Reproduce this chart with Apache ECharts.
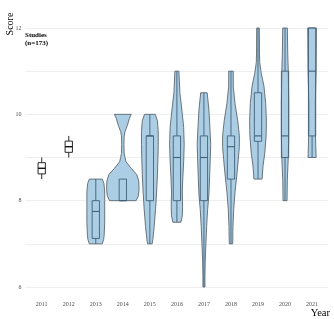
<!DOCTYPE html>
<html>
<head>
<meta charset="utf-8">
<script src="https://cdn.jsdelivr.net/npm/echarts@6/dist/echarts.min.js"></script>
<style>html,body{margin:0;padding:0;background:#fff;}#c{width:334px;height:319px;}</style>
</head>
<body>
<div id="c"></div>
<script>
// ---- data ----
const years = [2011, 2012, 2013, 2014, 2015, 2016, 2017, 2018, 2019, 2020, 2021];
const whiskerLow  = [8.5, 9.0, 7.0,   8.0, 7.0, 7.5, 6.0, 7.0, 8.5,   8.0, 9.0];
const q1          = [8.62, 9.12, 7.125, 8.0, 8.0, 8.0, 8.0, 8.5, 9.375, 9.0, 9.5];
const median      = [8.75, 9.25, 7.75, 8.0, 9.5, 9.0, 9.0, 9.25, 9.5,  9.5, 11.0];
const q3          = [8.88, 9.38, 8.0,   8.5, 9.5, 9.5, 9.5, 9.5, 10.5,  11.0, 12.0];
const whiskerHigh = [9.0, 9.5, 8.5,   8.5, 10.0, 11.0, 10.5, 11.0, 12.0, 12.0, 12.0];
const yTicks = [6, 8, 10, 12];
// violin profiles: [score, half-width in year units]
const violin2013 = [[8.5,0.24],[8.4,0.30],[8.2,0.33],[8.0,0.33],[7.5,0.33],[7.2,0.31],[7.1,0.29],[7.0,0.24]];
const violin2014 = [[10.0,0.31],[9.9,0.24],[9.75,0.17],[9.6,0.08],[9.5,0.05],[9.3,0.04],[9.1,0.05],[9.0,0.08],[8.9,0.12],[8.75,0.31],[8.6,0.52],[8.45,0.59],[8.25,0.60],[8.1,0.57],[8.0,0.49]];
const violin2015 = [[10.0,0.20],[9.85,0.28],[9.6,0.31],[9.3,0.31],[9.0,0.30],[8.6,0.28],[8.2,0.25],[7.8,0.21],[7.4,0.16],[7.1,0.11],[7.0,0.085]];
const violin2016 = [[11.0,0.074],[10.5,0.11],[10.1,0.185],[9.7,0.25],[9.3,0.27],[8.9,0.25],[8.55,0.22],[8.2,0.20],[7.85,0.21],[7.65,0.20],[7.5,0.15]];
const violin2017 = [[10.5,0.12],[10.1,0.185],[9.7,0.22],[9.3,0.25],[8.9,0.23],[8.55,0.21],[8.15,0.185],[7.8,0.137],[7.4,0.10],[7.0,0.074],[6.6,0.048],[6.25,0.037],[6.0,0.037]];
const violin2018 = [[11.0,0.085],[10.65,0.085],[10.25,0.15],[9.85,0.25],[9.5,0.31],[9.25,0.31],[8.95,0.27],[8.55,0.21],[8.2,0.15],[7.8,0.10],[7.4,0.074],[7.0,0.063]];
const violin2019 = [[12.0,0.048],[11.4,0.055],[11.2,0.063],[10.95,0.12],[10.65,0.22],[10.25,0.285],[9.85,0.31],[9.5,0.30],[9.1,0.25],[8.8,0.185],[8.5,0.15]];
const violin2020 = [[12.0,0.085],[11.4,0.10],[11.0,0.12],[10.25,0.137],[9.5,0.137],[9.0,0.12],[8.5,0.085],[8.0,0.074]];
const violin2021 = [[12.0,0.16],[11.0,0.15],[10.3,0.12],[9.65,0.12],[9.25,0.137],[9.0,0.15]];
const violins = [null, null, violin2013, violin2014, violin2015, violin2016, violin2017, violin2018, violin2019, violin2020, violin2021];

// ---- chart ----
const serif = 'Liberation Serif';
const chart = echarts.init(document.getElementById('c'), null, {renderer: 'canvas'});
const BOX_HALF = 0.135;

function renderItem(params, api) {
  const i = params.dataIndex;
  const yr = api.value(0);
  const children = [];
  const prof = violins[i];
  const isViolin = !!prof;
  if (isViolin) {
    const left = [], right = [];
    prof.forEach(p => {
      left.push(api.coord([yr - p[1], p[0]]));
      right.push(api.coord([yr + p[1], p[0]]));
    });
    const pts = left.concat(right.reverse());
    children.push({
      type: 'polygon',
      shape: {points: pts},
      style: {fill: '#abcee5', stroke: '#5c676f', lineWidth: 0.9}
    });
  }
  const stroke = isViolin ? '#3f6077' : '#111';
  const lw = isViolin ? 0.9 : 0.9;
  const cTop = api.coord([yr, api.value(5)]);
  const cQ3 = api.coord([yr, api.value(4)]);
  const cMed = api.coord([yr, api.value(3)]);
  const cQ1 = api.coord([yr, api.value(2)]);
  const cLow = api.coord([yr, api.value(1)]);
  const xl = api.coord([yr - BOX_HALF, 0])[0];
  const xr = api.coord([yr + BOX_HALF, 0])[0];
  const cx = cMed[0];
  children.push({type: 'line', shape: {x1: cx, y1: cTop[1], x2: cx, y2: cQ3[1]}, style: {stroke: stroke, lineWidth: lw}});
  children.push({type: 'line', shape: {x1: cx, y1: cQ1[1], x2: cx, y2: cLow[1]}, style: {stroke: stroke, lineWidth: lw}});
  children.push({type: 'rect', shape: {x: xl, y: cQ3[1], width: xr - xl, height: cQ1[1] - cQ3[1]},
    style: {fill: isViolin ? 'rgba(0,0,0,0)' : '#fff', stroke: stroke, lineWidth: lw}});
  children.push({type: 'line', shape: {x1: xl, y1: cMed[1], x2: xr, y2: cMed[1]}, style: {stroke: stroke, lineWidth: isViolin ? 1.1 : 1.4}});
  return {type: 'group', children: children};
}

const option = {
  backgroundColor: '#fff',
  animation: false,
  grid: {left: 25.5, right: 5.7, top: 28, bottom: 32},
  xAxis: {
    type: 'value', min: 2010.4, max: 2021.6,
    axisLine: {show: false}, axisTick: {show: false}, splitLine: {show: false},
    axisLabel: {customValues: years, formatter: v => String(v), color: '#4d4d4d', fontFamily: serif, fontSize: 6, margin: 14}
  },
  yAxis: {
    type: 'value', min: 6, max: 12, interval: 1,
    axisLine: {show: false}, axisTick: {show: false},
    splitLine: {show: true, lineStyle: {color: '#ececec', width: 0.9}},
    axisLabel: {formatter: v => yTicks.indexOf(v) >= 0 ? String(v) : '', color: '#4d4d4d', fontFamily: serif, fontSize: 6, margin: 4}
  },
  series: [{
    type: 'custom',
    renderItem: renderItem,
    clip: false,
    encode: {x: 0, y: 3},
    data: years.map((y, i) => [y, whiskerLow[i], q1[i], median[i], q3[i], whiskerHigh[i]])
  }],
  graphic: [
    {type: 'text', x: 10, y: 24, rotation: Math.PI / 2,
     style: {text: 'Score', font: '10px "Liberation Serif"', fill: '#000', align: 'center', verticalAlign: 'middle'}},
    {type: 'text', x: 330, y: 313,
     style: {text: 'Year', font: '10.5px "Liberation Serif"', fill: '#000', align: 'right', verticalAlign: 'middle'}},
    {type: 'text', x: 25, y: 35,
     style: {text: 'Studies', font: 'bold 7px "Liberation Serif"', fill: '#000', align: 'left', verticalAlign: 'middle'}},
    {type: 'text', x: 25, y: 43,
     style: {text: '(n=173)', font: 'bold 7px "Liberation Serif"', fill: '#000', align: 'left', verticalAlign: 'middle'}}
  ]
};
chart.setOption(option);
</script>
</body>
</html>
